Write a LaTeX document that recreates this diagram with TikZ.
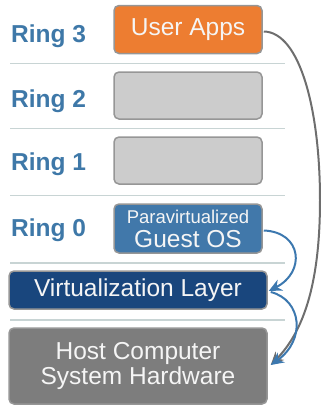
\documentclass[tikz,border=0pt]{standalone}
\usepackage{fontspec}
\setmainfont{Liberation Sans}
\usetikzlibrary{arrows.meta,calc}
\definecolor{orangeA}{RGB}{237,125,49}
\definecolor{boxborder}{RGB}{150,150,150}
\definecolor{emptyfill}{RGB}{204,204,204}
\definecolor{guestblue}{RGB}{65,120,170}
\definecolor{virtnavy}{RGB}{25,70,125}
\definecolor{hostgray}{RGB}{125,125,125}
\definecolor{ringblue}{RGB}{62,120,168}
\definecolor{sepcol}{RGB}{200,212,212}
\definecolor{arrowblue}{RGB}{60,120,175}
\definecolor{arrowgray}{RGB}{110,110,110}
\definecolor{boxtext}{RGB}{245,245,245}
\tikzset{
  layerbox/.style={draw=boxborder, line width=1.5pt, rounded corners=5pt, inner sep=0pt, align=center, text=boxtext,
    font=\fontsize{24.5}{25}\selectfont},
  ringlabel/.style={anchor=base west, text=ringblue, inner sep=0pt, font=\fontsize{24.5}{25}\selectfont\bfseries},
  sepline/.style={draw=sepcol},
  bluearrow/.style={draw=arrowblue, line width=2pt, -{Stealth[length=13pt,width=12pt]}},
  grayarrow/.style={draw=arrowgray, line width=2pt, -{Stealth[length=13pt,width=12pt]}}
}
\begin{document}
\begin{tikzpicture}[x=1pt,y=-1pt]
\useasboundingbox (0,0) rectangle (321,405);
% separators
\draw[sepline, line width=1pt] (10,63) -- (285,63);
\draw[sepline, line width=1pt] (10,128) -- (285,128);
\draw[sepline, line width=1pt] (10,195) -- (285,195);
\draw[sepline, line width=2pt] (10,263) -- (285,263);
\draw[sepline, line width=2pt] (10,320) -- (285,320);
% ring labels
\node[ringlabel] (l3) at (11,42) {Ring 3};
\node[ringlabel] (l2) at (11,107) {Ring 2};
\node[ringlabel] (l1) at (11,170) {Ring 1};
\node[ringlabel] (l0) at (11,236) {Ring 0};
% boxes
\node[layerbox, fill=orangeA, minimum width=148pt, minimum height=48pt] (apps) at (188,29.5) {User Apps};
\node[layerbox, fill=emptyfill, minimum width=148pt, minimum height=47pt] (r2) at (188,95.5) {};
\node[layerbox, fill=emptyfill, minimum width=148pt, minimum height=47pt] (r1) at (188,160.5) {};
\node[layerbox, fill=guestblue, minimum width=148pt, minimum height=49pt] (guest) at (188,228.5)
  {{\fontsize{18.5}{19}\selectfont Paravirtualized}\\[-1pt]Guest OS};
\node[layerbox, fill=virtnavy, minimum width=258pt, minimum height=38pt] (virt) at (138,290) {Virtualization Layer};
\node[layerbox, fill=hostgray, minimum width=258pt, minimum height=76pt] (host) at (138,366)
  {Host Computer\\[0pt]System Hardware};
% arrows
\coordinate (t1) at ($(virt.east)+(1,1)$);
\coordinate (s2) at ($(virt.east)+(3,2)$);
\coordinate (t2) at ($(host.east)+(3,-1)$);
\draw[grayarrow] ($(apps.east)+(1,2)$) .. controls (300,32) and (320,110) .. (320,200)
  .. controls (320,280) and (305,330) .. (t2);
\draw[bluearrow] ($(guest.east)+(1,2)$) .. controls (302,232) and (306,272) .. (t1);
\draw[bluearrow] (s2) .. controls (302,300) and (306,340) .. (t2);
\end{tikzpicture}
\end{document}
